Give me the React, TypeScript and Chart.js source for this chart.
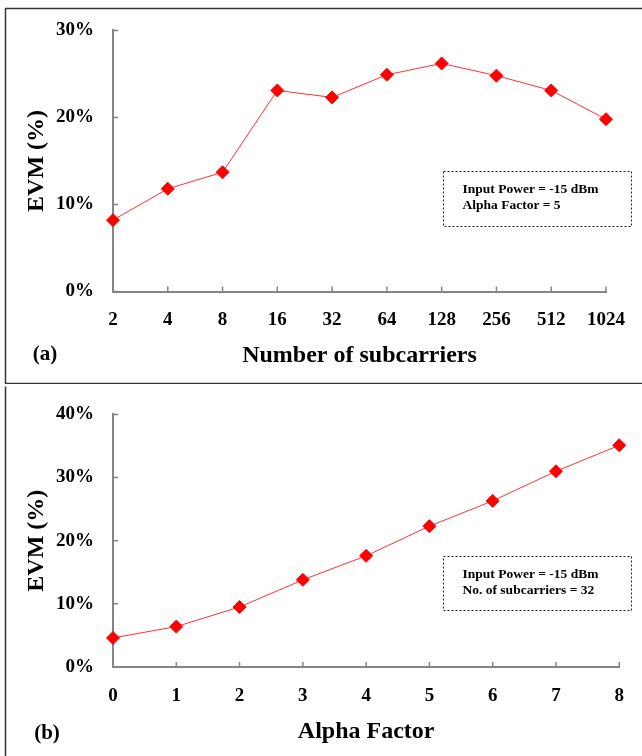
import { useEffect, useRef } from "react";
import { Chart, registerables } from "chart.js";

Chart.register(...registerables);

// ---- data ----
const subcarrierLabels = ["2", "4", "8", "16", "32", "64", "128", "256", "512", "1024"];
const evmVsSubcarriers = [8.2, 11.8, 13.7, 23.1, 22.3, 24.9, 26.2, 24.8, 23.1, 19.8];
const alphaLabels = ["0", "1", "2", "3", "4", "5", "6", "7", "8"];
const evmVsAlpha = [4.6, 6.4, 9.5, 13.8, 17.6, 22.3, 26.3, 31.0, 35.1];
const noteA = ["Input Power = -15 dBm", "Alpha Factor = 5"];
const noteB = ["Input Power = -15 dBm", "No. of subcarriers = 32"];
const yTitle = "EVM (%)";
const xTitleA = "Number of subcarriers";
const xTitleB = "Alpha Factor";

const FONT = "'Liberation Serif', 'Times New Roman', serif";
const AXIS = "#858585";

const tickPlugin = {
  id: "innerTicks",
  beforeDatasetsDraw(chart: any) {
    const ctx = chart.ctx;
    const area = chart.chartArea;
    const xs = chart.scales.x;
    const ys = chart.scales.y;
    ctx.save();
    ctx.strokeStyle = AXIS;
    ctx.lineWidth = 1.5;
    ctx.beginPath();
    xs.ticks.forEach((_: any, i: number) => {
      const x = xs.getPixelForTick(i);
      ctx.moveTo(x, area.bottom);
      ctx.lineTo(x, area.bottom - 5);
    });
    ys.ticks.forEach((_: any, i: number) => {
      const y = ys.getPixelForTick(i);
      ctx.moveTo(area.left, y);
      ctx.lineTo(area.left + 5, y);
    });
    ctx.stroke();
    ctx.restore();
  },
};

const decoPlugin = {
  id: "panelDeco",
  afterDraw(chart: any, _args: any, opts: any) {
    const ctx = chart.ctx;
    ctx.save();
    // frame
    ctx.strokeStyle = "#333";
    ctx.lineWidth = 1.5;
    ctx.beginPath();
    (opts.frame || []).forEach((s: number[]) => {
      ctx.moveTo(s[0], s[1]);
      ctx.lineTo(s[2], s[3]);
    });
    ctx.stroke();
    // panel label
    ctx.fillStyle = "#000";
    ctx.font = `bold 21px ${FONT}`;
    ctx.textAlign = "center";
    ctx.textBaseline = "middle";
    ctx.fillText(opts.tag, opts.tagX, opts.tagY);
    // note box
    const b = opts.box;
    ctx.setLineDash([2, 2]);
    ctx.lineWidth = 1;
    ctx.strokeStyle = "#222";
    ctx.strokeRect(b.x, b.y, b.w, b.h);
    ctx.setLineDash([]);
    ctx.font = `bold 13.5px ${FONT}`;
    ctx.textAlign = "left";
    (opts.lines || []).forEach((t: string, i: number) => {
      ctx.fillText(t, b.x + 19, b.y + 18 + i * 16.5);
    });
    ctx.restore();
  },
};

function makeConfig(p: {
  labels: string[];
  values: number[];
  yMax: number;
  xTitle: string;
  height: number;
  top: number;
  right: number;
  bottom: number;
  xTickPad: number;
  xTitlePad: number;
  deco: any;
}): any {
  return {
    type: "line",
    data: {
      labels: p.labels,
      datasets: [
        {
          data: p.values,
          borderColor: "#ff3030",
          borderWidth: 1,
          pointStyle: "rectRot",
          pointRadius: 6.5,
          pointBackgroundColor: "#ff0000",
          pointBorderColor: "#ff0000",
          pointBorderWidth: 1,
          tension: 0,
          clip: false,
        },
      ],
    },
    plugins: [tickPlugin, decoPlugin],
    options: {
      responsive: false,
      animation: false,
      layout: { padding: { left: 0, top: p.top, right: p.right, bottom: 0 } },
      plugins: {
        legend: { display: false },
        tooltip: { enabled: false },
        panelDeco: p.deco,
      },
      scales: {
        x: {
          type: "category",
          offset: false,
          grid: { display: false, drawTicks: false },
          border: { display: true, color: AXIS, width: 2 },
          ticks: {
            color: "#000",
            font: { family: FONT, size: 19, weight: "bold" },
            padding: p.xTickPad,
            autoSkip: false,
            maxRotation: 0,
          },
          title: {
            display: true,
            text: p.xTitle,
            color: "#000",
            font: { family: FONT, size: 24, weight: "bold" },
            padding: { top: 0, bottom: p.xTitlePad },
          },
          afterFit: (s: any) => {
            s.height = p.height - p.bottom;
          },
        },
        y: {
          min: 0,
          max: p.yMax,
          grid: { display: false, drawTicks: false },
          border: { display: true, color: AXIS, width: 2 },
          ticks: {
            stepSize: 10,
            color: "#000",
            font: { family: FONT, size: 19, weight: "bold" },
            padding: 19,
            callback: (v: any) => v + "%",
          },
          title: {
            display: true,
            text: yTitle,
            color: "#000",
            font: { family: FONT, size: 24, weight: "bold" },
            padding: { top: 22.5, bottom: 0 },
          },
          afterFit: (s: any) => {
            s.width = 113;
          },
        },
      },
    },
  };
}

export default function App() {
  const refA = useRef<HTMLCanvasElement>(null);
  const refB = useRef<HTMLCanvasElement>(null);

  useEffect(() => {
    const a = new Chart(
      refA.current as HTMLCanvasElement,
      makeConfig({
        labels: subcarrierLabels,
        values: evmVsSubcarriers,
        yMax: 30,
        xTitle: xTitleA,
        height: 384,
        top: 25.5,
        right: 30,
        bottom: 291.5,
        xTickPad: 17,
        xTitlePad: 13.5,
        deco: {
          frame: [
            [5, 8.5, 642, 8.5],
            [5.5, 8.5, 5.5, 383.5],
            [5, 383.5, 642, 383.5],
          ],
          tag: "(a)",
          tagX: 45,
          tagY: 355,
          box: { x: 443.5, y: 171.5, w: 188, h: 55 },
          lines: noteA,
        },
      })
    );
    const b = new Chart(
      refB.current as HTMLCanvasElement,
      makeConfig({
        labels: alphaLabels,
        values: evmVsAlpha,
        yMax: 40,
        xTitle: xTitleB,
        height: 372,
        top: 18,
        right: 15,
        bottom: 283,
        xTickPad: 18,
        xTitlePad: 10,
        deco: {
          frame: [[5.5, 2.5, 5.5, 372]],
          tag: "(b)",
          tagX: 47,
          tagY: 350,
          box: { x: 443.5, y: 172.5, w: 188, h: 54 },
          lines: noteB,
        },
      })
    );
    return () => {
      a.destroy();
      b.destroy();
    };
  }, []);

  return (
    <div style={{ position: "absolute", left: 0, top: 0, width: 642, height: 756, background: "#fff" }}>
      <canvas ref={refA} width={642} height={384} style={{ position: "absolute", left: 0, top: 0, width: 642, height: 384 }} />
      <canvas ref={refB} width={642} height={372} style={{ position: "absolute", left: 0, top: 384, width: 642, height: 372 }} />
    </div>
  );
}
